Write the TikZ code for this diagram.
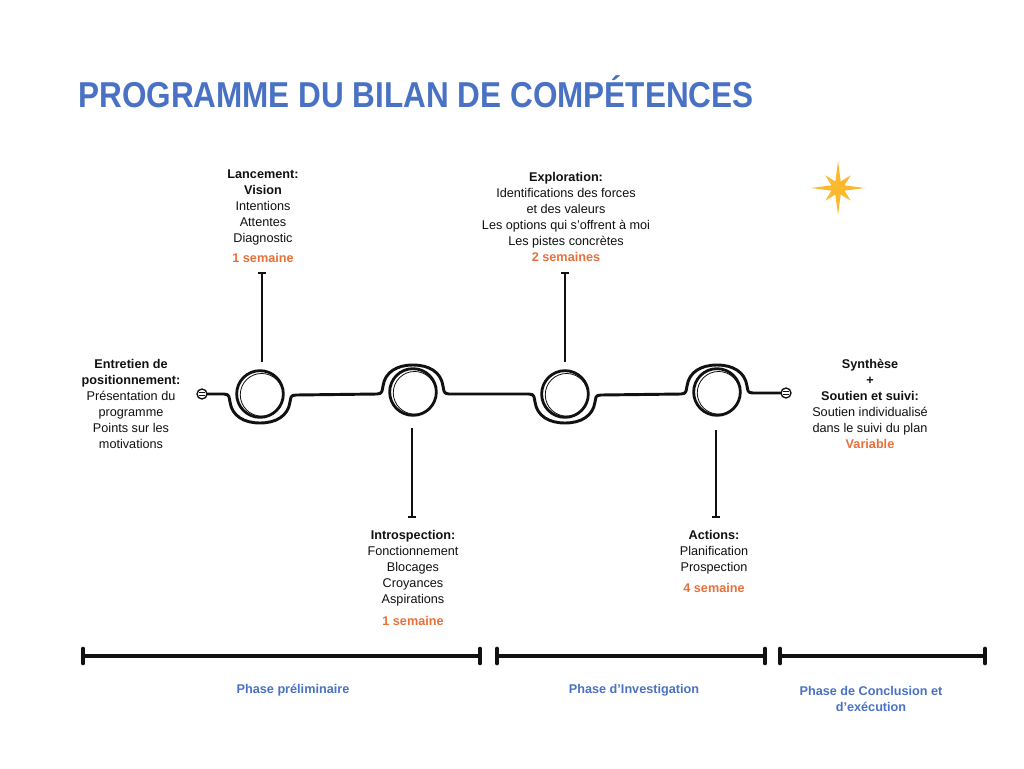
\documentclass[tikz,border=0pt]{standalone}
\usepackage{fontspec}
\setmainfont{Liberation Sans}
\usetikzlibrary{arrows.meta}
\definecolor{ttlblue}{HTML}{4A72C4}
\definecolor{orng}{HTML}{E8703A}
\definecolor{starcol}{HTML}{FDB92E}
\definecolor{ink}{HTML}{111111}
\tikzset{
  txt/.style={align=center,inner sep=0pt,anchor=north,text=ink,font=\fontsize{9.5}{12}\selectfont},
  ring/.style={circle,draw=ink,line width=2.1pt,minimum size=35pt,inner sep=0pt},
  tl/.style={draw=ink,line width=2.2pt,line cap=round,line join=round},
  stemline/.style={draw=ink,line width=1.8pt,-{Bar[width=6pt,line width=1.8pt]}},
  phasebar/.style={draw=ink,line width=2.6pt,{Bar[width=11pt,line width=3pt,round]}-{Bar[width=11pt,line width=3pt,round]}},
  phaselbl/.style={align=center,inner sep=0pt,text=ttlblue,font=\fontsize{9.5}{12.5}\selectfont\bfseries},
  endsym/.style={circle,draw=ink,line width=1pt,minimum size=7.5pt,inner sep=0pt},
}
\newcommand{\orng}[1]{\textcolor{orng}{\bfseries #1}}
\begin{document}
\begin{tikzpicture}[x=0.75pt,y=-0.75pt]
\useasboundingbox (0,0) rectangle (1024,768);
\fill[white] (0,0) rectangle (1024,768);

% title
\node[anchor=base west,inner sep=0pt,text=ttlblue] (title) at (78,107)
  {\scalebox{0.875}[1]{\fontsize{27}{30}\selectfont\bfseries PROGRAMME DU BILAN DE COMPÉTENCES}};

% star
\fill[starcol] (838,188) +(0:27) -- +(22.5:7) -- +(45:18) -- +(67.5:7) -- +(90:27) -- +(112.5:7)
  -- +(135:18) -- +(157.5:7) -- +(180:27) -- +(202.5:7) -- +(225:18) -- +(247.5:7)
  -- +(270:27) -- +(292.5:7) -- +(315:18) -- +(337.5:7) -- cycle;

% rings
\node[ring] (c1) at (260,394) {};
\node[ring] (c2) at (413,392) {};
\node[ring] (c3) at (565,394) {};
\node[ring] (c4) at (717,392) {};
\foreach \c in {c1,c2,c3,c4}{
  \draw[ink,line width=0.6pt] ([xshift=1.2pt,yshift=-0.6pt]\c.center) circle (16pt);
}

% end symbols
\node[endsym] (e1) at (202,394) {};
\node[endsym] (e2) at (786,393) {};
\foreach \e in {e1,e2}{
  \draw[ink,line width=0.7pt] ([xshift=-2pt,yshift=1pt]\e.center) -- ([xshift=2pt,yshift=1pt]\e.center);
  \draw[ink,line width=0.7pt] ([xshift=-2pt,yshift=-1pt]\e.center) -- ([xshift=2pt,yshift=-1pt]\e.center);
}

% timeline
\draw[tl] (e1.east) -- (224,394)
  .. controls (230,394) and (229,398) .. (230,402)
  .. controls (232,416) and (244,423) .. (260,423)
  .. controls (276,423) and (288,416) .. (290,402)
  .. controls (291,398) and (290,395) .. (296,395)
  -- (377,394)
  .. controls (383,394) and (382,390) .. (383,386)
  .. controls (385,372) and (397,365) .. (413,365)
  .. controls (429,365) and (441,372) .. (443,386)
  .. controls (444,390) and (443,394) .. (449,394)
  -- (529,394)
  .. controls (535,394) and (534,398) .. (535,402)
  .. controls (537,416) and (549,423) .. (565,423)
  .. controls (581,423) and (593,416) .. (595,402)
  .. controls (596,398) and (595,395) .. (601,395)
  -- (681,394)
  .. controls (687,394) and (686,390) .. (687,386)
  .. controls (689,372) and (701,365) .. (717,365)
  .. controls (733,365) and (745,372) .. (747,386)
  .. controls (748,390) and (747,393) .. (753,393)
  -- (e2.west);

% stems
\coordinate (s1a) at (262,362); \coordinate (s1b) at (262,272);
\coordinate (s2a) at (412,428); \coordinate (s2b) at (412,518);
\coordinate (s3a) at (565,362); \coordinate (s3b) at (565,272);
\coordinate (s4a) at (716,430); \coordinate (s4b) at (716,518);
\draw[stemline] (s1a) -- (s1b);
\draw[stemline] (s2a) -- (s2b);
\draw[stemline] (s3a) -- (s3b);
\draw[stemline] (s4a) -- (s4b);

% texts
\node[txt] (t1) at (263,170) {{\bfseries Lancement:}\\{\bfseries Vision}\\Intentions\\Attentes\\Diagnostic\\[2.5pt]\orng{1 semaine}};
\node[txt] (t3) at (566,172) {{\bfseries Exploration:}\\Identifications des forces\\et des valeurs\\Les options qui s’offrent à moi\\Les pistes concrètes\\\orng{2 semaines}};
\node[txt] (t0) at (131,359) {{\bfseries Entretien de}\\{\bfseries positionnement:}\\Présentation du\\programme\\Points sur les\\motivations};
\node[txt] (t5) at (870,359) {{\bfseries Synthèse}\\{\bfseries +}\\{\bfseries Soutien et suivi:}\\Soutien individualisé\\dans le suivi du plan\\\orng{Variable}};
\node[txt] (t2) at (413,530) {{\bfseries Introspection:}\\Fonctionnement\\Blocages\\Croyances\\Aspirations\\[4.5pt]\orng{1 semaine}};
\node[txt] (t4) at (714,530) {{\bfseries Actions:}\\Planification\\Prospection\\[4pt]\orng{4 semaine}};

% phase bars
\coordinate (p1a) at (81,656); \coordinate (p1b) at (482,656);
\coordinate (p2a) at (495,656); \coordinate (p2b) at (767,656);
\coordinate (p3a) at (778,656); \coordinate (p3b) at (987,656);
\draw[phasebar] (p1a) -- (p1b);
\draw[phasebar] (p2a) -- (p2b);
\draw[phasebar] (p3a) -- (p3b);
\node[phaselbl] (l1) at (293,690) {Phase préliminaire};
\node[phaselbl] (l2) at (634,690) {Phase d’Investigation};
\node[phaselbl] (l3) at (871,699) {Phase de Conclusion et\\d’exécution};
\end{tikzpicture}
\end{document}
